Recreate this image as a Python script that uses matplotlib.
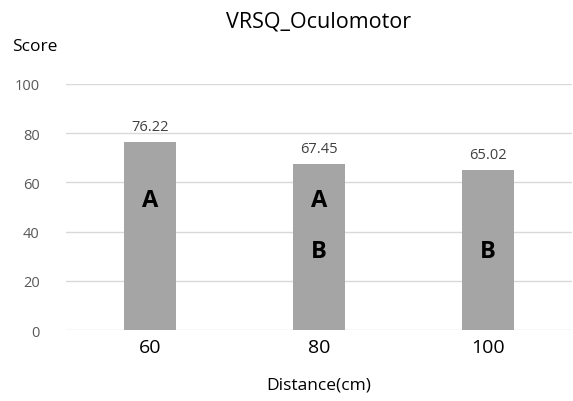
import matplotlib
matplotlib.use('Agg')
from matplotlib import pyplot as plt
import numpy as np

# data
distances = ['60', '80', '100']
scores = [76.22, 67.45, 65.02]
groups = [['A'], ['A', 'B'], ['B']]
group_y = {'A': 53, 'B': 32}

plt.rcParams['font.family'] = ['Open Sans', 'DejaVu Sans']

fig = plt.figure(figsize=(5.73, 4.02), dpi=100)
ax = fig.add_axes([0.115, 0.1766, 0.884, 0.612])

x = np.arange(len(distances))
ax.bar(x, scores, width=0.31, color='#a5a5a5', zorder=2)

# value labels above bars
for xi, v in zip(x, scores):
    ax.text(xi, v + 3.3, f'{v:.2f}', ha='center', va='bottom', fontsize=10.5, color='#404040')

# grouping letters inside bars
for xi, g in zip(x, groups):
    for letter in g:
        ax.text(xi, group_y[letter], letter, ha='center', va='center',
                fontsize=17, fontweight='bold', color='black', zorder=3)

ax.set_xlim(-0.5, 2.5)
ax.set_ylim(0, 100)
ax.set_yticks([0, 20, 40, 60, 80, 100])
ax.set_xticks(x)
ax.set_xticklabels(distances, fontsize=14, color='black')
ax.tick_params(axis='y', labelsize=10.5, colors='#595959', length=0, pad=19)
ax.tick_params(axis='x', length=0, pad=6)
ax.yaxis.grid(True, color='#d9d9d9', linewidth=1, zorder=0)
for s in ax.spines.values():
    s.set_visible(False)

fig.text(0.556, 0.945, 'VRSQ_Oculomotor', ha='center', va='center', fontsize=15.5)
fig.text(0.061, 0.883, 'Score', ha='center', va='center', fontsize=12.5)
fig.text(0.556, 0.042, 'Distance(cm)', ha='center', va='center', fontsize=12.5)

fig.savefig('out.png', dpi=100)
